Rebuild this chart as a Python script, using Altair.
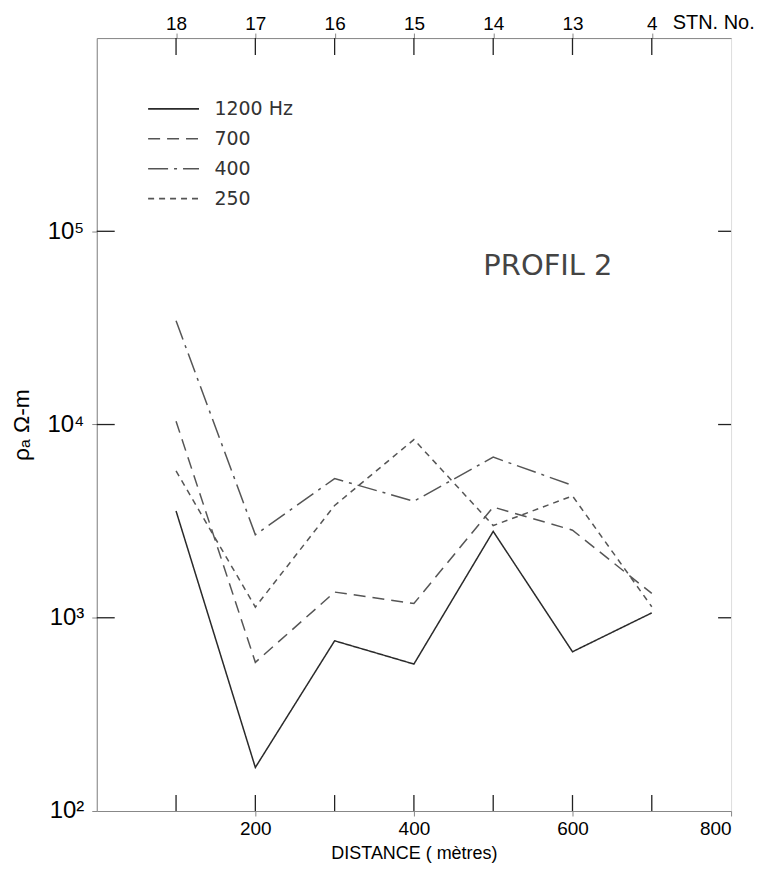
import altair as alt
import pandas as pd

# ---- data ----
distance = [100, 200, 300, 400, 500, 600, 700]
rho_1200 = [3570, 168, 760, 576, 2800, 667, 1060]
rho_700 = [10400, 588, 1358, 1185, 3740, 2840, 1336]
rho_400 = [34400, 2690, 5250, 4010, 6780, 4840, None]
rho_250 = [5750, 1136, 3810, 8360, 3000, 4270, 1140]
series_labels = ["1200 Hz", "700", "400", "250"]
stations = ["18", "17", "16", "15", "14", "13", "4"]
x_label_values = [200, 400, 600, 800]
y_tick_values = [100, 1000, 10000, 100000]
y_tick_labels = ["10²", "10³", "10⁴", "10⁵"]
y_inner_ticks = [1000, 10000, 100000]
annotation_text = ["PROFIL 2"]
annotation_x = [569]
annotation_y = [66000]

rows = []
for name, vals in zip(series_labels, [rho_1200, rho_700, rho_400, rho_250]):
    for d, v in zip(distance, vals):
        if v is not None:
            rows.append({"distance": d, "rho": v, "series": name})
df = pd.DataFrame(rows)

W, H = 636, 775
FONT = "DejaVu Sans"
INK = "#333333"

xscale = alt.Scale(domain=[0, 800], nice=False, zero=False)
yscale = alt.Scale(type="log", domain=[100, 1000000], nice=False)

legend = alt.Legend(
    orient="none", legendX=61, legendY=55, title=None,
    symbolType="M-1.7,0H1.7", symbolSize=900, symbolStrokeWidth=1.6,
    labelFontSize=19, labelFont=FONT, labelColor=INK, labelOffset=25,
    rowPadding=4,
)

lines = alt.Chart(df).mark_line(strokeWidth=1.5).encode(
    x=alt.X("distance:Q", scale=xscale, axis=None),
    y=alt.Y("rho:Q", scale=yscale, axis=None),
    strokeDash=alt.StrokeDash(
        "series:N",
        scale=alt.Scale(domain=series_labels,
                        range=[[1, 0], [12, 7], [20, 6, 3, 6], [6, 5]]),
        legend=legend,
    ),
    color=alt.Color(
        "series:N",
        scale=alt.Scale(domain=series_labels,
                        range=["#2a2a2a", "#555555", "#555555", "#555555"]),
        legend=legend,
    ),
)

tick_df = pd.DataFrame({"d": distance})


def chain(vals, labels):
    expr = "''"
    for v, l in reversed(list(zip(vals, labels))):
        expr = f"datum.value == {v} ? '{l}' : ({expr})"
    return expr


bottom_ticks = alt.Chart(tick_df).mark_rule(color="#222", strokeWidth=1.3).encode(
    x=alt.X("d:Q", scale=xscale, axis=alt.Axis(
        orient="bottom", values=x_label_values, title="DISTANCE ( mètres)",
        labelPadding=4, titlePadding=6, labelFontSize=19, titleFontSize=18,
        titleFontWeight="normal",
    )),
    y=alt.value(H), y2=alt.value(H - 16),
)

top_ticks = alt.Chart(tick_df).mark_rule(color="#222", strokeWidth=1.3).encode(
    x=alt.X("d:Q", scale=xscale, axis=alt.Axis(
        orient="top", values=distance, labelExpr=chain(distance, stations),
        title="STN. No.", titleAngle=0, titleAlign="left", titleBaseline="middle",
        titleX=577, titleY=-16, labelPadding=0, labelFontSize=19, titleFontSize=20,
        titleFontWeight="normal",
    )),
    y=alt.value(0), y2=alt.value(17),
)

ytick_df = pd.DataFrame({"v": y_inner_ticks})
left_ticks = alt.Chart(ytick_df).mark_rule(color="#222", strokeWidth=1.3).encode(
    y=alt.Y("v:Q", scale=yscale, axis=alt.Axis(
        orient="left", values=y_tick_values,
        labelExpr=chain(y_tick_values, y_tick_labels),
        title="ρₐ  Ω-m", labelPadding=8, titlePadding=13,
        labelFontSize=24, titleFontSize=23, titleFontWeight="normal",
    )),
    x=alt.value(0), x2=alt.value(18),
)
right_ticks = alt.Chart(ytick_df).mark_rule(color="#222", strokeWidth=1.3).encode(
    y=alt.Y("v:Q", scale=yscale, axis=None),
    x=alt.value(W - 13), x2=alt.value(W),
)

ann_df = pd.DataFrame({"x": annotation_x, "y": annotation_y, "t": annotation_text})
ann = alt.Chart(ann_df).mark_text(
    font=FONT, fontSize=29, color="#444", align="center", baseline="middle"
).encode(
    x=alt.X("x:Q", scale=xscale, axis=None),
    y=alt.Y("y:Q", scale=yscale, axis=None),
    text="t:N",
)

chart = alt.layer(
    lines, bottom_ticks, top_ticks, left_ticks, right_ticks, ann
).resolve_axis(x="independent", y="independent").properties(
    width=W, height=H,
    autosize=alt.AutoSizeParams(type="none"),
    padding={"left": 89, "top": 29, "right": 27, "bottom": 54},
).configure_view(
    stroke="#222", strokeWidth=1.5
).configure_axis(
    domain=False, grid=False, ticks=False,
    labelFont=FONT, titleFont=FONT, labelColor=INK, titleColor=INK,
    titleFontWeight="normal",
).configure(background="white")

chart.save("out.html", embed_options={"renderer": "svg", "actions": False})
